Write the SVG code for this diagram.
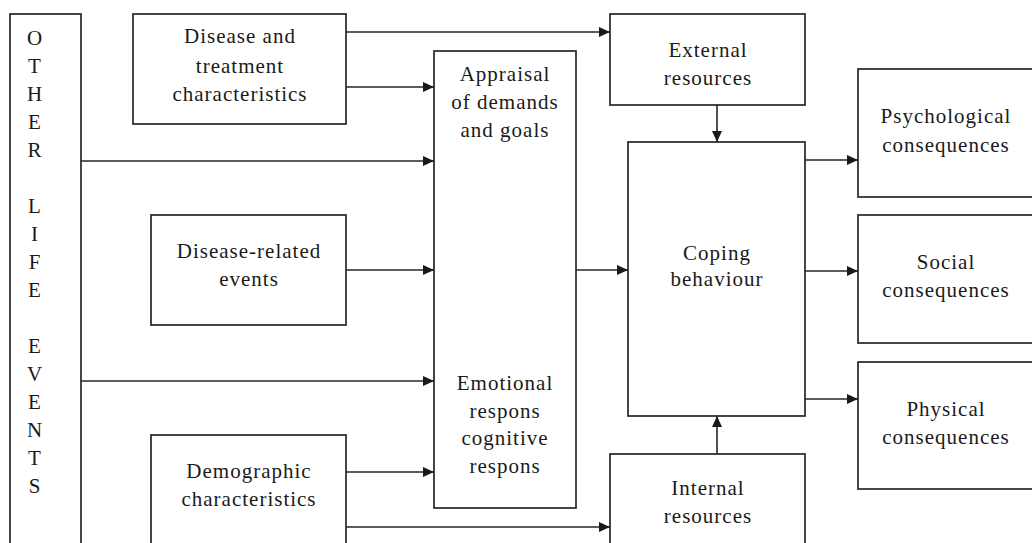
<svg xmlns="http://www.w3.org/2000/svg" width="1032" height="543" viewBox="0 0 1032 543">
<defs>
<style>
.box{fill:#fff;stroke:#262626;stroke-width:1.7}
.t{font-family:"Liberation Serif","Times New Roman",serif;font-size:21px;letter-spacing:1px;fill:#1a1a1a;text-anchor:middle}
.c{fill:none;stroke:#262626;stroke-width:1.6}
</style>
<marker id="ah" markerUnits="userSpaceOnUse" markerWidth="12" markerHeight="10" refX="11" refY="5" orient="auto">
<path d="M0,0 L11,5 L0,10 z" fill="#1a1a1a"/>
</marker>
</defs>
<rect width="1032" height="543" fill="#fff"/>
<g id="other-life-events">
<rect class="box" x="10" y="14" width="71" height="545"/>
<g class="t">
<text x="35" y="45">O</text><text x="35" y="73">T</text><text x="35" y="101">H</text><text x="35" y="129">E</text><text x="35" y="157">R</text>
<text x="35" y="213">L</text><text x="35" y="241">I</text><text x="35" y="269">F</text><text x="35" y="297">E</text>
<text x="35" y="353">E</text><text x="35" y="381">V</text><text x="35" y="409">E</text><text x="35" y="437">N</text><text x="35" y="465">T</text><text x="35" y="493">S</text>
</g>
</g>
<g id="disease-treatment">
<rect class="box" x="133" y="14" width="213" height="110"/>
<text class="t" x="240" y="43">Disease and</text>
<text class="t" x="240" y="73">treatment</text>
<text class="t" x="240" y="101">characteristics</text>
</g>
<g id="disease-related">
<rect class="box" x="151" y="215" width="195" height="110"/>
<text class="t" x="249" y="258">Disease-related</text>
<text class="t" x="249" y="286">events</text>
</g>
<g id="demographic">
<rect class="box" x="151" y="435" width="195" height="125"/>
<text class="t" x="249" y="478">Demographic</text>
<text class="t" x="249" y="506">characteristics</text>
</g>
<g id="appraisal">
<rect class="box" x="434" y="51" width="142" height="457"/>
<text class="t" x="505" y="81">Appraisal</text>
<text class="t" x="505" y="109">of demands</text>
<text class="t" x="505" y="137">and goals</text>
<text class="t" x="505" y="390">Emotional</text>
<text class="t" x="505" y="418">respons</text>
<text class="t" x="505" y="445">cognitive</text>
<text class="t" x="505" y="473">respons</text>
</g>
<g id="external-resources">
<rect class="box" x="610" y="14" width="195" height="91"/>
<text class="t" x="708" y="57">External</text>
<text class="t" x="708" y="85">resources</text>
</g>
<g id="coping">
<rect class="box" x="628" y="142" width="177" height="274"/>
<text class="t" x="717" y="260">Coping</text>
<text class="t" x="717" y="286">behaviour</text>
</g>
<g id="internal-resources">
<rect class="box" x="610" y="454" width="195" height="106"/>
<text class="t" x="708" y="495">Internal</text>
<text class="t" x="708" y="523">resources</text>
</g>
<g id="psychological">
<rect class="box" x="858" y="69" width="185" height="128"/>
<text class="t" x="946" y="123">Psychological</text>
<text class="t" x="946" y="152">consequences</text>
</g>
<g id="social">
<rect class="box" x="858" y="215" width="185" height="128"/>
<text class="t" x="946" y="269">Social</text>
<text class="t" x="946" y="297">consequences</text>
</g>
<g id="physical">
<rect class="box" x="858" y="362" width="185" height="127"/>
<text class="t" x="946" y="416">Physical</text>
<text class="t" x="946" y="444">consequences</text>
</g>
<g id="connectors" class="c" marker-end="url(#ah)">
<line x1="346" y1="32" x2="610" y2="32" marker-end="url(#ah)"/>
<line x1="346" y1="87" x2="434" y2="87" marker-end="url(#ah)"/>
<line x1="81" y1="161" x2="434" y2="161" marker-end="url(#ah)"/>
<line x1="346" y1="270" x2="434" y2="270" marker-end="url(#ah)"/>
<line x1="81" y1="381" x2="434" y2="381" marker-end="url(#ah)"/>
<line x1="346" y1="472" x2="434" y2="472" marker-end="url(#ah)"/>
<line x1="346" y1="527" x2="610" y2="527" marker-end="url(#ah)"/>
<line x1="576" y1="270" x2="628" y2="270" marker-end="url(#ah)"/>
<line x1="717" y1="105" x2="717" y2="142" marker-end="url(#ah)"/>
<line x1="717" y1="454" x2="717" y2="416" marker-end="url(#ah)"/>
<line x1="805" y1="160" x2="858" y2="160" marker-end="url(#ah)"/>
<line x1="805" y1="271" x2="858" y2="271" marker-end="url(#ah)"/>
<line x1="805" y1="399" x2="858" y2="399" marker-end="url(#ah)"/>
</g>
</svg>
